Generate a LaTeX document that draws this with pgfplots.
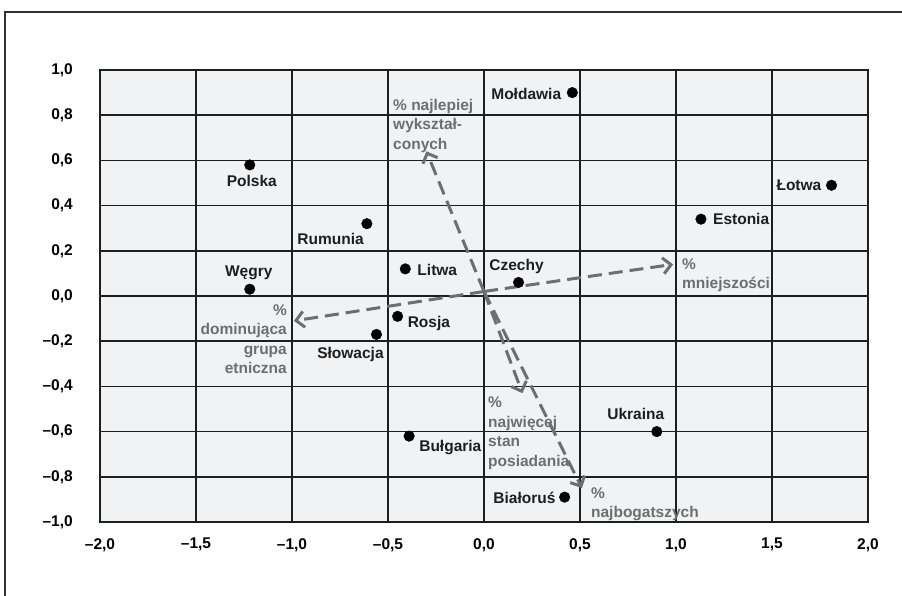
\documentclass[border=0pt]{standalone}
\usepackage{fontspec}
\setmainfont{Liberation Sans}
\usepackage{pgfplots}
\pgfplotsset{compat=1.18}
\usetikzlibrary{arrows.meta}

\definecolor{plotbg}{RGB}{241,242,244}
\definecolor{gridc}{RGB}{30,30,30}
\definecolor{arrc}{RGB}{110,110,112}
\definecolor{framec}{RGB}{50,50,50}

\tikzset{vec/.style={color=arrc, line width=3pt, dash pattern=on 14pt off 7pt,
  -{Straight Barb[length=8pt,width=16pt,line width=3pt]}}}

\begin{document}
\begin{tikzpicture}
\begin{axis}[
  at={(0,0)}, anchor=south west,
  width=768pt, height=452pt, scale only axis,
  xmin=-2, xmax=2, ymin=-1, ymax=1,
  xtick={-2,-1.5,-1,-0.5,0,0.5,1,1.5,2},
  xticklabels={{–2,0},{–1,5},{–1,0},{–0,5},{0,0},{0,5},{1,0},{1,5},{2,0}},
  ytick={-1,-0.8,-0.6,-0.4,-0.2,0,0.2,0.4,0.6,0.8,1},
  yticklabels={{–1,0},{–0,8},{–0,6},{–0,4},{–0,2},{0,0},{0,2},{0,4},{0,6},{0,8},{1,0}},
  x tick label style={font=\fontsize{15.5}{17}\selectfont\bfseries, anchor=north, inner sep=0pt, yshift=-16pt},
  y tick label style={font=\fontsize{15.5}{17}\selectfont\bfseries, anchor=east, inner sep=0pt, xshift=-27pt},
  major tick length=0pt,
  grid=major,
  major grid style={line width=1.6pt, color=gridc},
  axis line style={line width=2.2pt, color=gridc},
  axis background/.style={fill=plotbg},
  clip=false,
]
\addplot[vec] coordinates {(0,0.02) (-0.30,0.64)};
\addplot[vec] coordinates {(0,0.02) (0.985,0.14)};
\addplot[vec] coordinates {(0,0.02) (-0.99,-0.11)};
\addplot[vec] coordinates {(0,0.02) (0.20,-0.43)};
\addplot[vec] coordinates {(0,0.02) (0.51,-0.85)};

% countries: position, label offset (pt) and label anchor
\addplot[only marks, mark=*, mark size=5.3pt, black,
  point meta=explicit symbolic,
  visualization depends on={\thisrow{dx} \as \ldx},
  visualization depends on={\thisrow{dy} \as \ldy},
  visualization depends on={value \thisrow{anc} \as \lanc},
  nodes near coords,
  every node near coord/.append style={anchor=\lanc, xshift=\ldx pt, yshift=\ldy pt,
    inner sep=0pt, text height=11.1pt, text depth=0pt, color=gridc,
    font=\fontsize{15.5}{19}\selectfont\bfseries},
] table[x=x, y=y, meta=name] {
x y dx dy anc name
0.46 0.90 -11 -1 east Mołdawia
-1.22 0.58 2 -16 center Polska
-0.61 0.32 -3 -15 east Rumunia
1.81 0.49 -10 0 east Łotwa
1.13 0.34 12 0 west Estonia
-1.22 0.03 -1 18 center Węgry
-0.41 0.12 12 -1 west Litwa
0.18 0.06 -2 17 center Czechy
-0.45 -0.09 10 -6 west Rosja
-0.56 -0.17 -26 -19 center Słowacja
-0.39 -0.62 10 -10 west Bułgaria
0.90 -0.60 -21 18 center Ukraina
0.42 -0.89 -9 -1 east Białoruś
};

\begin{scope}[every node/.style={color=arrc, inner sep=0pt, font=\fontsize{15.5}{19.5}\selectfont\bfseries}]
\node[anchor=north west, align=left] at (axis cs:-0.474,0.872) {\% najlepiej\\wykształ-\\conych};
\node[anchor=north west, align=left] at (axis cs:1.031,0.167) {\%\\mniejszości};
\node[anchor=north east, align=right] at (axis cs:-1.026,-0.037) {\%\\dominująca\\grupa\\etniczna};
\node[anchor=north west, align=left] at (axis cs:0.021,-0.445) {\%\\najwięcej\\stan\\posiadania};
\node[anchor=north west, align=left] at (axis cs:0.557,-0.847) {\%\\najbogatszych};
\end{scope}
\end{axis}
\draw[framec, line width=2pt] (-95pt,-90pt) -- (-95pt,510pt) -- (820pt,510pt);
\pgfresetboundingbox
\useasboundingbox (-100pt,-73pt) rectangle (802pt,522pt);
\end{tikzpicture}
\end{document}
